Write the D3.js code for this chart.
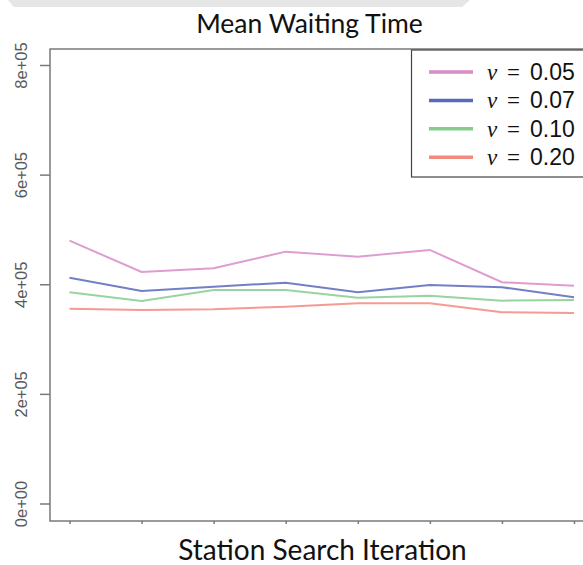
<!DOCTYPE html>
<html lang="en">
  <head>
    <meta charset="UTF-8" />
    <title>Mean Waiting Time</title>
    <script src="https://d3js.org/d3.v7.min.js"></script>
    <style>
      body {
        margin: 0;
        background: white;
      }
      svg {
        display: block;
      }
    </style>
  </head>
  <body>
    <script>
      // Data
      const iterations = [1, 2, 3, 4, 5, 6, 7, 8];
      const seriesNames = ["0.05", "0.07", "0.10", "0.20"];
      const v005 = [479600, 422400, 429200, 459500, 450400, 462600, 403600, 397400];
      const v007 = [412000, 387800, 395600, 402900, 385400, 398700, 394500, 376300];
      const v010 = [385400, 369500, 389600, 389600, 375500, 379200, 370100, 371300];
      const v020 = [355500, 353100, 354400, 359100, 365300, 365300, 348900, 347600];
      const yTicks = [0, 200000, 400000, 600000, 800000];
      const yTickLabels = ["0e+00", "2e+05", "4e+05", "6e+05", "8e+05"];

      const series = [v005, v007, v010, v020];
      const colors = ["#d88bc9", "#5b69ba", "#86cc8e", "#f28a80"];

      const width = 583;
      const height = 565;
      const svg = d3
        .select("body")
        .append("svg")
        .attr("width", width)
        .attr("height", height);

      // faint watermark band at the very top
      svg
        .append("path")
        .attr("d", "M8,0 L470,0 L462,7 L14,7 Z")
        .attr("fill", "#e6e6e6");

      const box = { left: 50, top: 49, bottom: 521, right: 590 };

      const x = d3.scaleLinear().domain([1, 8]).range([69.5, 574]);
      const y = d3.scaleLinear().domain([0, 800000]).range([503.5, 65]);

      // plot box
      svg
        .append("rect")
        .attr("x", box.left)
        .attr("y", box.top)
        .attr("width", box.right - box.left)
        .attr("height", box.bottom - box.top)
        .attr("fill", "none")
        .attr("stroke", "#7a7a7a")
        .attr("stroke-width", 1.5);

      // y axis
      const yAxis = svg
        .append("g")
        .attr("transform", `translate(${box.left},0)`)
        .call(
          d3
            .axisLeft(y)
            .tickValues(yTicks)
            .tickSize(10)
            .tickFormat((d, i) => yTickLabels[i])
        );
      yAxis.select(".domain").remove();
      yAxis.selectAll(".tick line").attr("stroke", "#7a7a7a").attr("stroke-width", 1.5);
      yAxis
        .selectAll(".tick text")
        .attr("fill", "#5a5a5a")
        .attr("font-family", "Liberation Sans, Arial, sans-serif")
        .attr("font-size", 16.5)
        .attr("text-anchor", "middle")
        .attr("dy", null)
        .attr("x", null)
        .attr("transform", `translate(-23.5,0) rotate(-90)`);

      // x axis (ticks only, no labels)
      const xAxis = svg
        .append("g")
        .attr("transform", `translate(0,${box.bottom})`)
        .call(d3.axisBottom(x).tickValues(iterations).tickSize(3).tickFormat(""));
      xAxis.select(".domain").remove();
      xAxis.selectAll(".tick line").attr("stroke", "#7a7a7a").attr("stroke-width", 1.5);

      // lines
      const line = d3
        .line()
        .x((d, i) => x(iterations[i]))
        .y((d) => y(d));

      svg
        .append("g")
        .selectAll("path")
        .data(series)
        .join("path")
        .attr("d", line)
        .attr("fill", "none")
        .attr("stroke", (d, i) => colors[i])
        .attr("stroke-width", 2)
        .attr("stroke-opacity", 0.85);

      // title and x label
      svg
        .append("text")
        .attr("x", 309.5)
        .attr("y", 33)
        .attr("text-anchor", "middle")
        .attr("font-family", "Lato, sans-serif")
        .attr("font-size", 26.5)
        .attr("fill", "#111")
        .text("Mean Waiting Time");

      svg
        .append("text")
        .attr("x", 322.5)
        .attr("y", 560)
        .attr("text-anchor", "middle")
        .attr("font-family", "Lato, sans-serif")
        .attr("font-size", 28)
        .attr("fill", "#111")
        .text("Station Search Iteration");

      // legend
      const legend = svg.append("g");
      legend
        .append("rect")
        .attr("x", 411.5)
        .attr("y", 50)
        .attr("width", 180)
        .attr("height", 127)
        .attr("fill", "white")
        .attr("stroke", "#444")
        .attr("stroke-width", 1.2);

      const items = legend
        .selectAll("g.item")
        .data(seriesNames)
        .join("g")
        .attr("class", "item")
        .attr("transform", (d, i) => `translate(0,${72 + i * 28.4})`);

      items
        .append("line")
        .attr("x1", 429)
        .attr("x2", 473)
        .attr("stroke", (d, i) => colors[i])
        .attr("stroke-width", 3.5);

      const label = items.append("text").attr("y", 8).attr("font-size", 23).attr("fill", "#111");
      label
        .append("tspan")
        .attr("x", 487)
        .attr("font-family", "Liberation Serif, serif")
        .attr("font-style", "italic")
        .text("ν");
      label
        .append("tspan")
        .attr("x", 507)
        .attr("font-family", "Liberation Serif, serif")
        .text("=");
      label
        .append("tspan")
        .attr("x", 530)
        .attr("font-family", "Liberation Sans, Arial, sans-serif")
        .text((d) => d);
    </script>
  </body>
</html>
